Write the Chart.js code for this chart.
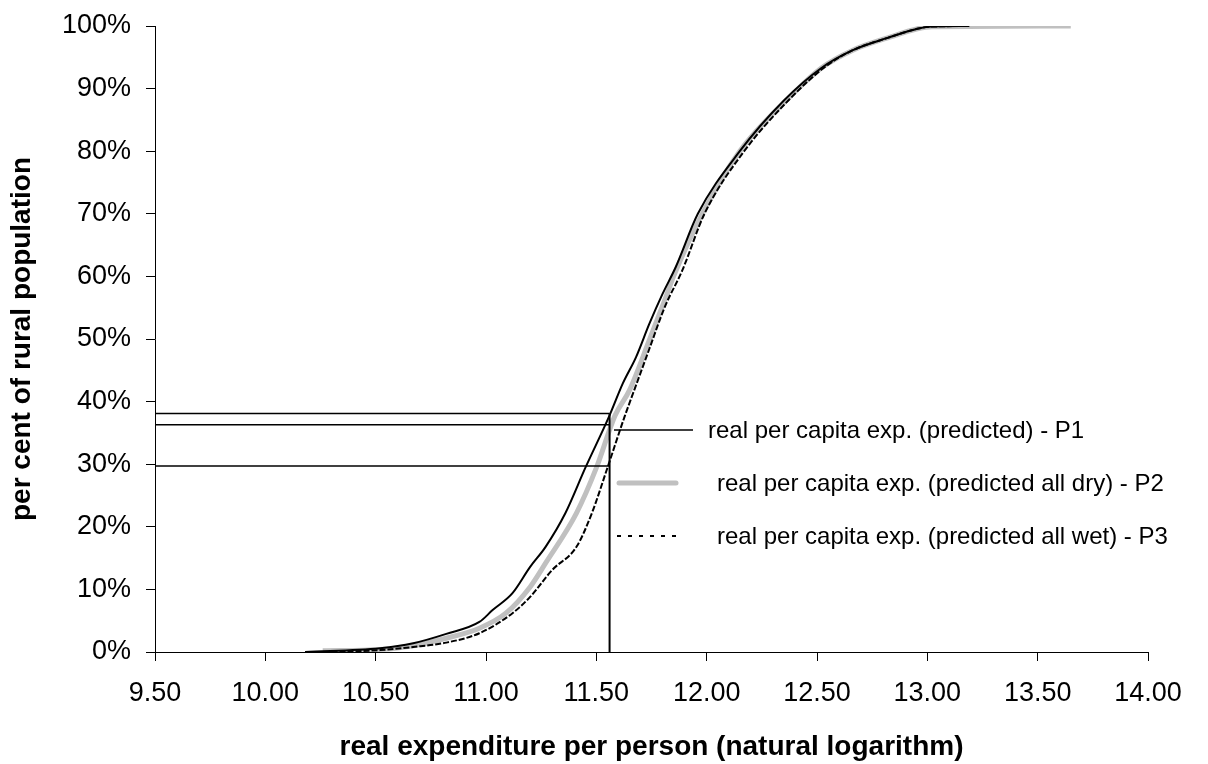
<!DOCTYPE html>
<html>
<head>
<meta charset="utf-8">
<script src="https://cdn.jsdelivr.net/npm/chart.js@4/dist/chart.umd.min.js"></script>
<style>
  html, body { margin: 0; padding: 0; background: #fff; }
  #wrap { width: 1208px; height: 764px; }
</style>
</head>
<body>
<div id="wrap"><canvas id="c" width="1208" height="764"></canvas></div>
<script>
// P1 - predicted (left black curve)
const p1X = [10.18, 10.52, 10.67, 10.82, 10.97, 11.03, 11.12, 11.20, 11.27, 11.36, 11.45, 11.56, 11.62, 11.68, 11.74, 11.80, 11.86, 11.96, 12.15, 12.35, 12.52, 12.66, 12.82, 12.96, 13.02, 13.19];
const p1Y = [0, 0.6, 1.4, 2.9, 4.8, 6.7, 9.4, 13.6, 16.8, 22.2, 29.4, 37.8, 42.9, 47.1, 52.4, 57.2, 61.5, 70, 80, 88.1, 93.3, 96.1, 98.1, 99.6, 99.9, 100];

// P2 - predicted all dry (grey curve)
const p2X = [10.26, 10.52, 10.67, 10.82, 10.97, 11.09, 11.20, 11.27, 11.41, 11.50, 11.585, 11.65, 11.74, 11.81, 11.85, 11.98, 12.15, 12.36, 12.52, 12.66, 12.82, 12.96, 13.02, 13.65];
const p2Y = [0.2, 0.4, 1.0, 2.2, 3.8, 6.2, 10.4, 14.2, 22.2, 29.4, 37.8, 41.8, 49.8, 56.2, 60, 70, 80, 88.1, 93.3, 96.1, 98.1, 99.6, 99.9, 100];

// P3 - predicted all wet (right dotted curve)
const p3X = [10.30, 10.52, 10.67, 10.82, 10.97, 11.12, 11.20, 11.30, 11.41, 11.48, 11.55, 11.63, 11.66, 11.74, 11.81, 11.89, 11.99, 12.17, 12.37, 12.53, 12.66, 12.82, 12.96, 13.02, 13.19];
const p3Y = [0, 0.3, 0.8, 1.5, 3.0, 6.2, 8.8, 13.1, 16.8, 22.2, 29.4, 37.8, 40.7, 48.4, 55.1, 61.0, 70, 80, 88.1, 93.3, 96.1, 98.1, 99.6, 99.9, 100];

// poverty line cut-off and headcounts
const cutoffX = 11.56;
const cutoffLevels = [38.1, 36.3, 29.7];

const seriesNames = [
  'real per capita exp. (predicted) - P1',
  'real per capita exp. (predicted all dry) - P2',
  'real per capita exp. (predicted all wet) - P3'
];

const FONT = '"Liberation Sans", Arial, sans-serif';

const toPoints = (xs, ys) => xs.map((x, i) => ({ x: x, y: ys[i] }));

const refDatasets = [];
refDatasets.push({
  data: [{ x: cutoffX, y: 0 }, { x: cutoffX, y: Math.max(...cutoffLevels) }],
  borderColor: '#000', borderWidth: 2, pointRadius: 0, showLine: true, order: 0
});
cutoffLevels.forEach(lv => {
  refDatasets.push({
    data: [{ x: 9.5, y: lv }, { x: cutoffX, y: lv }],
    borderColor: '#000', borderWidth: 1.5, pointRadius: 0, showLine: true, order: 0
  });
});

// legend drawn inside the plot, like the original
const insideLegend = {
  id: 'insideLegend',
  afterDraw(chart) {
    const ctx = chart.ctx;
    ctx.save();
    ctx.font = '24px ' + FONT;
    ctx.fillStyle = '#000';
    ctx.textBaseline = 'middle';
    ctx.textAlign = 'left';

    // P1
    ctx.strokeStyle = '#000';
    ctx.lineWidth = 1.5;
    ctx.beginPath();
    ctx.moveTo(614, 430); ctx.lineTo(693, 430);
    ctx.stroke();
    ctx.fillText(seriesNames[0], 708, 431);

    // P2
    ctx.strokeStyle = '#c0c0c0';
    ctx.lineWidth = 5;
    ctx.lineCap = 'round';
    ctx.beginPath();
    ctx.moveTo(619, 483); ctx.lineTo(676, 483);
    ctx.stroke();
    ctx.fillText(seriesNames[1], 717, 484);

    // P3
    ctx.strokeStyle = '#000';
    ctx.lineWidth = 2;
    ctx.lineCap = 'butt';
    ctx.setLineDash([4, 7]);
    ctx.beginPath();
    ctx.moveTo(617, 536); ctx.lineTo(680, 536);
    ctx.stroke();
    ctx.setLineDash([]);
    ctx.fillText(seriesNames[2], 717, 537);
    ctx.restore();
  }
};

new Chart(document.getElementById('c'), {
  type: 'scatter',
  data: {
    datasets: [
      {
        label: seriesNames[0], data: toPoints(p1X, p1Y),
        borderColor: '#000', borderWidth: 2, pointRadius: 0,
        showLine: true, cubicInterpolationMode: 'monotone', order: 1
      },
      {
        label: seriesNames[1], data: toPoints(p2X, p2Y),
        borderColor: '#c0c0c0', borderWidth: 5, pointRadius: 0,
        showLine: true, cubicInterpolationMode: 'monotone', order: 3
      },
      {
        label: seriesNames[2], data: toPoints(p3X, p3Y),
        borderColor: '#000', borderWidth: 2, borderDash: [6, 2], pointRadius: 0,
        showLine: true, cubicInterpolationMode: 'monotone', order: 2
      },
      ...refDatasets
    ]
  },
  options: {
    responsive: false,
    animation: false,
    layout: { padding: { left: 0, right: 60, top: 26, bottom: 0 } },
    plugins: {
      legend: { display: false },
      tooltip: { enabled: false }
    },
    scales: {
      x: {
        type: 'linear',
        min: 9.5, max: 14,
        afterFit: (s) => { s.height = 112; s.paddingLeft = 0; s.paddingRight = 0; },
        border: { color: '#000', width: 1 },
        grid: { display: true, drawOnChartArea: false, drawTicks: true, tickLength: 9, color: '#000' },
        ticks: {
          stepSize: 0.5, color: '#000', padding: 16,
          font: { family: FONT, size: 27 },
          callback: (v) => Number(v).toFixed(2)
        },
        title: {
          display: true, text: 'real expenditure per person (natural logarithm)', color: '#000',
          font: { family: FONT, size: 28, weight: 'bold' }, padding: { top: 0, bottom: 0 }
        }
      },
      y: {
        min: 0, max: 100,
        afterFit: (s) => { s.width = 155; s.paddingTop = 0; s.paddingBottom = 0; },
        border: { color: '#000', width: 1 },
        grid: { display: true, drawOnChartArea: false, drawTicks: true, tickLength: 9, color: '#000' },
        ticks: {
          stepSize: 10, color: '#000', padding: 15,
          font: { family: FONT, size: 27 },
          callback: (v) => v + '%'
        },
        title: {
          display: true, text: 'per cent of rural population', color: '#000',
          font: { family: FONT, size: 28, weight: 'bold' }, padding: { top: 5, bottom: 0 }
        }
      }
    }
  },
  plugins: [insideLegend]
});
</script>
</body>
</html>
